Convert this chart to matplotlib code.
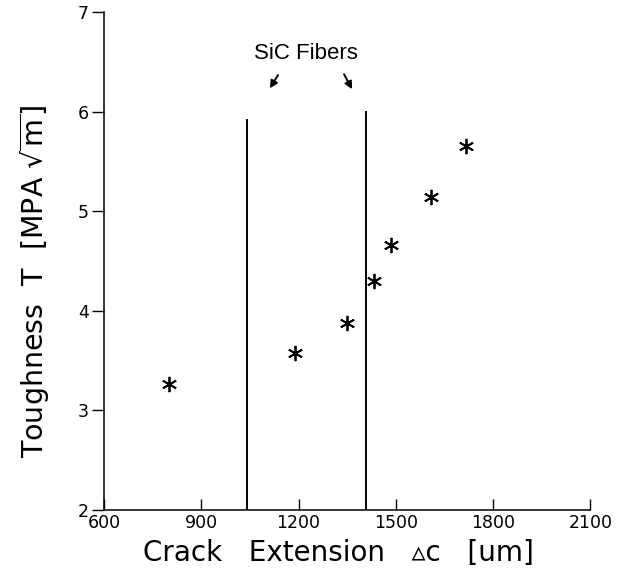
import matplotlib
matplotlib.use("Agg")
import matplotlib.pyplot as plt

# Data
crack_ext = [800, 1189, 1350, 1433, 1485, 1609, 1715]
toughness = [3.27, 3.58, 3.88, 4.30, 4.66, 5.14, 5.65]
fiber_x = [1042, 1408]
fiber_top = [5.92, 6.00]
xticks = [600, 900, 1200, 1500, 1800, 2100]
yticks = [2, 3, 4, 5, 6, 7]

fig = plt.figure(figsize=(6.26, 5.78), dpi=100)
ax = fig.add_axes([104/626, 68/578, 486.5/626, 498/578])

ax.plot(crack_ext, toughness, linestyle='none', marker=(6, 2, 0),
        markersize=11, markeredgewidth=1.3, color='black')

for fx, ft in zip(fiber_x, fiber_top):
    ax.plot([fx, fx], [2, ft], color='black', linewidth=1.4)

ax.set_xlim(600, 2100)
ax.set_ylim(2, 7)
ax.set_xticks(xticks)
ax.set_yticks(yticks)
ax.tick_params(axis='x', direction='in', length=8, width=1, labelsize=12.5, pad=3)
ax.tick_params(axis='y', direction='out', length=9, width=1, labelsize=12.5, pad=2)
for s in ['top', 'right']:
    ax.spines[s].set_visible(False)
for s in ['left', 'bottom']:
    ax.spines[s].set_linewidth(1.1)

ax.text(1222, 6.58, 'SiC Fibers', ha='center', va='center',
        fontsize=16, family='Liberation Sans')
ax.annotate('', xy=(1107, 6.21), xytext=(1141, 6.39),
            arrowprops=dict(arrowstyle='-|>', color='black', lw=1.4, mutation_scale=11))
ax.annotate('', xy=(1369, 6.20), xytext=(1336, 6.40),
            arrowprops=dict(arrowstyle='-|>', color='black', lw=1.4, mutation_scale=11))

ax.set_xlabel('Crack   Extension   \u25b5c   [um]', fontsize=20)
ax.xaxis.set_label_coords(0.481, -0.086)
ax.xaxis.label.set_va('center')
ax.set_ylabel(r'Toughness  T  [MPA $\sqrt{\mathrm{m}}$]', fontsize=20.5)
ax.yaxis.set_label_coords(-0.142, 0.46)
ax.yaxis.label.set_va('center')

fig.savefig('out.png', dpi=100)
